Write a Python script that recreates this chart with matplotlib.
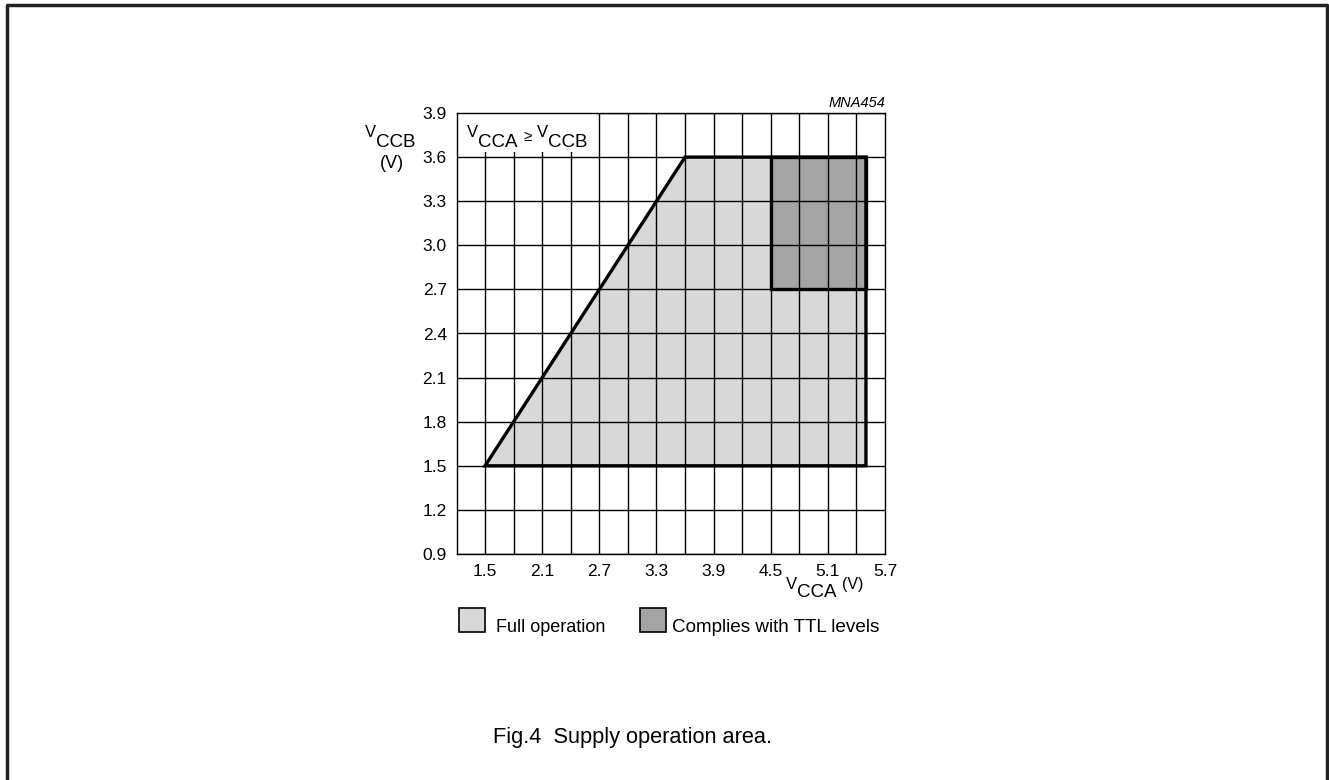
import numpy as np
import matplotlib
matplotlib.use('Agg')
import matplotlib.pyplot as plt
from matplotlib.patches import Polygon, Rectangle
from matplotlib.lines import Line2D

plt.rcParams['font.family'] = ['Liberation Sans', 'DejaVu Sans']

# data
x_ticks = [1.5, 2.1, 2.7, 3.3, 3.9, 4.5, 5.1, 5.7]
y_ticks = [0.9, 1.2, 1.5, 1.8, 2.1, 2.4, 2.7, 3.0, 3.3, 3.6, 3.9]
x_grid = [1.5, 1.8, 2.1, 2.4, 2.7, 3.0, 3.3, 3.6, 3.9, 4.2, 4.5, 4.8, 5.1, 5.4]
full_vcca = [1.5, 3.6, 5.5, 5.5]
full_vccb = [1.5, 3.6, 3.6, 1.5]
ttl_vcca = [4.5, 5.5]
ttl_vccb = [2.7, 3.6]

W, H = 1329, 780
fig = plt.figure(figsize=(W / 100, H / 100), dpi=100)
renderer = fig.canvas.get_renderer()
ax = fig.add_axes([456.5 / W, 1 - 554 / H, (885 - 456.5) / W, (554 - 113) / H])
ax.set_xlim(1.2, 5.7)
ax.set_ylim(0.9, 3.9)

LIGHT = '#d8d8d8'
DARK = '#a4a4a4'

ax.add_patch(Polygon(list(zip(full_vcca, full_vccb)), closed=True, facecolor=LIGHT,
                     edgecolor='none', zorder=1))
ax.add_patch(Rectangle((ttl_vcca[0], ttl_vccb[0]), ttl_vcca[1] - ttl_vcca[0],
                       ttl_vccb[1] - ttl_vccb[0], facecolor=DARK, edgecolor='none', zorder=2))
for gx in x_grid:
    ax.axvline(gx, color='black', lw=1.0, zorder=3)
for gy in y_ticks:
    ax.axhline(gy, color='black', lw=1.0, zorder=3)
ax.add_patch(Polygon(list(zip(full_vcca, full_vccb)), closed=True, fill=False,
                     edgecolor='black', lw=2.4, zorder=5, joinstyle='miter'))
ax.add_patch(Rectangle((ttl_vcca[0], ttl_vccb[0]), ttl_vcca[1] - ttl_vcca[0],
                       ttl_vccb[1] - ttl_vccb[0], fill=False, edgecolor='black', lw=2.4, zorder=5))

# white patch behind the condition label
ax.add_patch(Rectangle((458 / W, 1 - 152 / H), (597 - 458) / W, (152 - 114) / H,
                       transform=fig.transFigure, facecolor='white', edgecolor='none', zorder=4))

ax.set_xticks(x_ticks)
ax.set_xticklabels([f'{v:.1f}' for v in x_ticks])
ax.set_yticks(y_ticks)
ax.set_yticklabels([f'{v:.1f}' for v in y_ticks])
ax.tick_params(length=0, labelsize=12.5, pad=7)
for s in ax.spines.values():
    s.set_linewidth(1.0)
    s.set_zorder(6)


def chain(x0, base, parts):
    # parts: (text, size, raise_px, gap_px); positions in pixels from top-left
    x = x0
    for s, size, up, gap in parts:
        t = fig.text((x + gap) / W, 1 - (base - up) / H, s, fontsize=size,
                     ha='left', va='baseline', zorder=7)
        x = t.get_window_extent(renderer).x1


# inside label V_CCA >= V_CCB
chain(467, 147, [('V', 12, 10, 0), ('CCA', 13.5, 0, 0), ('≥', 11, 6, 6),
                 ('V', 12, 10, 5), ('CCB', 13.5, 0, 0)])
ax.text(1.0, 1.006, 'MNA454', transform=ax.transAxes, fontsize=10.5, style='italic',
        ha='right', va='bottom')

# y label
chain(365, 147, [('V', 12, 10, 0), ('CCB', 13.5, 0, 0)])
fig.text(392 / W, 1 - 163 / H, '(V)', fontsize=13, ha='center', va='center')
# x label
chain(786, 597, [('V', 12, 8, 0), ('CCA', 13.5, 0, 0), ('(V)', 11.5, 8, 5)])

# legend
fig.patches.append(Rectangle((459 / W, 1 - 632 / H), 26 / W, 24 / H,
                             transform=fig.transFigure, facecolor=LIGHT, edgecolor='black', lw=1.2))
fig.text(496 / W, 1 - 627 / H, 'Full operation', fontsize=13, va='center')
fig.patches.append(Rectangle((640 / W, 1 - 632 / H), 26 / W, 24 / H,
                             transform=fig.transFigure, facecolor=DARK, edgecolor='black', lw=1.2))
fig.text(672 / W, 1 - 627 / H, 'Complies with TTL levels', fontsize=13.6, va='center')

fig.text(493 / W, 1 - 738 / H, 'Fig.4  Supply operation area.', fontsize=15.7, ha='left', va='center')

# page frame (left, top, right)
fx = [7 / W, 7 / W, 1327 / W, 1327 / W]
fy = [0.0, 1 - 5 / H, 1 - 5 / H, 0.0]
fig.lines.append(Line2D(fx, fy, transform=fig.transFigure, color='#222222', lw=2.5))

fig.savefig('out.png', dpi=100)
